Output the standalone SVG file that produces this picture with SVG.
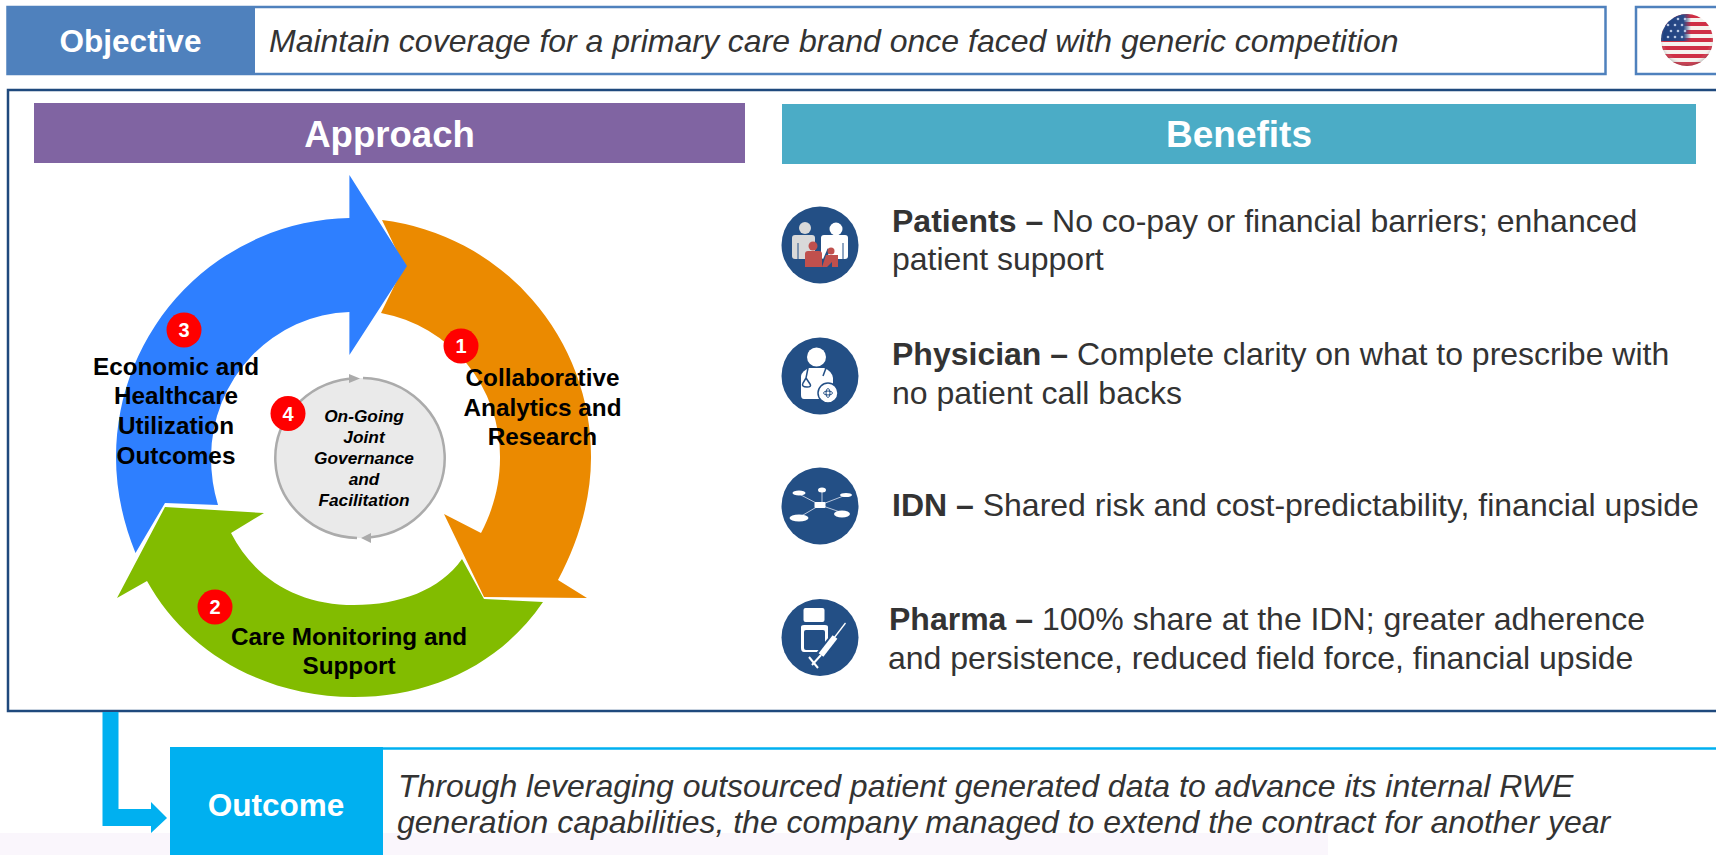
<svg xmlns="http://www.w3.org/2000/svg" width="1716" height="855" viewBox="0 0 1716 855">
<style>
text{font-family:"Liberation Sans",Arial,sans-serif}
.t{font-size:32px;fill:#333}
.i{font-style:italic;fill:#333;font-size:32px}
.b{font-weight:700}
.h{font-weight:700;fill:#fff;text-anchor:middle}
.r{font-size:24.3px;font-weight:700;fill:#000;text-anchor:middle}
.c{font-size:17.3px;font-weight:700;font-style:italic;fill:#000;text-anchor:middle}
.n{font-size:20px;font-weight:700;fill:#fff;text-anchor:middle}
.ic{fill:#234f85}
</style>
<defs>
<clipPath id="fc"><circle cx="1687" cy="40" r="26"/></clipPath>
<radialGradient id="fs" cx="0.5" cy="0.45" r="0.55"><stop offset="0.82" stop-color="#fff" stop-opacity="0"/><stop offset="1" stop-color="#444" stop-opacity="0.35"/></radialGradient>
<linearGradient id="fg" x1="0" y1="0" x2="1" y2="0"><stop offset="0" stop-color="#1f3f7f"/><stop offset="0.75" stop-color="#2a4b88"/><stop offset="1" stop-color="#2a4b88" stop-opacity="0"/></linearGradient>
</defs>
<rect width="1716" height="855" fill="#fff"/>
<rect id="pale-band" x="0" y="833" width="1328" height="22" fill="#faf6fc"/>

<g id="objective">
<rect x="7.5" y="7" width="1598" height="67" fill="#fff" stroke="#4f81bd" stroke-width="2.5"/>
<rect x="7" y="6" width="248" height="68" fill="#4f81bd"/>
<text class="h" x="130.5" y="52" font-size="31.5">Objective</text>
<text class="i" x="269" y="52">Maintain coverage for a primary care brand once faced with generic competition</text>
</g>

<g id="flag">
<rect x="1636" y="7" width="90" height="67" fill="#fff" stroke="#4f81bd" stroke-width="2.5"/>
<g clip-path="url(#fc)">
<rect x="1661" y="14" width="52" height="52" fill="#f6f2ee"/>
<g fill="#cf2f45">
<rect x="1661" y="14" width="52" height="4"/>
<rect x="1661" y="22" width="52" height="4"/>
<rect x="1661" y="30" width="52" height="4"/>
<rect x="1661" y="38" width="52" height="4"/>
<rect x="1661" y="46" width="52" height="4"/>
<rect x="1661" y="54" width="52" height="4"/>
<rect x="1661" y="62" width="52" height="4"/>
</g>
<rect x="1661" y="14" width="30" height="27" fill="url(#fg)"/>
<g fill="#b9c8e4">
<circle cx="1668" cy="37" r="1.3"/><circle cx="1675" cy="37" r="1.3"/><circle cx="1682" cy="37" r="1.3"/>
<circle cx="1671" cy="31" r="1.3"/><circle cx="1678" cy="31" r="1.3"/><circle cx="1685" cy="31" r="1.3"/>
<circle cx="1668" cy="25" r="1.3"/><circle cx="1675" cy="25" r="1.3"/><circle cx="1682" cy="25" r="1.3"/>
<circle cx="1678" cy="19" r="1.3"/><circle cx="1685" cy="19" r="1.3"/>
</g>
<circle cx="1687" cy="40" r="26" fill="url(#fs)"/>
</g>
</g>

<g id="main-frame">
<rect x="8" y="90" width="1730" height="621" fill="none" stroke="#1f497d" stroke-width="2.5"/>
</g>

<g id="approach">
<rect x="34" y="103" width="711" height="60" fill="#8064a2"/>
<text class="h" x="389.5" y="147" font-size="36.6">Approach</text>
</g>
<g id="benefits">
<rect x="782" y="104" width="914" height="60" fill="#4bacc6"/>
<text class="h" x="1239" y="147" font-size="37">Benefits</text>
</g>

<g id="arrow-orange">
<path d="M382 220A238 238 0 0 1 591 458C591 500 578 543 558 580L587 598L484 597L444 514L481 533C493 510 500 485 500 458A146 146 0 0 0 381 313L404 266Z" fill="#eb8a00"/>
</g>
<g id="arrow-green">
<path d="M543 602C500 665 430 697 354 697C262 697 185 650 147 581L117 598L165 507L264 513L231 533C255 580 300 605 354 605C400 605 440 590 462 559L484 599Z" fill="#82bc00"/>
</g>
<g id="arrow-blue">
<path d="M349.4 175L407 266L349.4 355V312A143 146 0 0 0 211 457Q211 482 218 505L165 503L135.500 553Q116 505 116 457A238 239 0 0 1 349.4 218Z" fill="#2e7fff"/>
</g>

<g id="node-governance">
<ellipse cx="360" cy="458" rx="84.500" ry="80" fill="#eaeaea"/>
<path d="M363 378A84.500 80 0 0 1 371 537.300M357 538A84.500 80 0 0 1 349 378.700" fill="none" stroke="#ababab" stroke-width="2.500"/>
<path d="M349 374L360 378.500L349 383ZM371 533L361 538L371 543Z" fill="#ababab"/>
<text class="c" x="364" y="422">On-Going</text>
<text class="c" x="364" y="443">Joint</text>
<text class="c" x="364" y="464">Governance</text>
<text class="c" x="364" y="485">and</text>
<text class="c" x="364" y="506">Facilitation</text>
</g>

<g id="label-1">
<text class="r" x="542.500" y="386">Collaborative</text>
<text class="r" x="542.500" y="416">Analytics and</text>
<text class="r" x="542.500" y="445">Research</text>
<circle cx="461" cy="346" r="17.500" fill="#f00"/><text class="n" x="461" y="353">1</text>
</g>
<g id="label-2">
<text class="r" x="349" y="645">Care Monitoring and</text>
<text class="r" x="349" y="674">Support</text>
<circle cx="215" cy="607" r="17.500" fill="#f00"/><text class="n" x="215" y="614">2</text>
</g>
<g id="label-3">
<text class="r" x="176" y="375">Economic and</text>
<text class="r" x="176" y="404">Healthcare</text>
<text class="r" x="176" y="434">Utilization</text>
<text class="r" x="176" y="464">Outcomes</text>
<circle cx="184" cy="330" r="17.500" fill="#f00"/><text class="n" x="184" y="337">3</text>
</g>
<g id="label-4">
<circle cx="288" cy="413.500" r="17.500" fill="#f00"/><text class="n" x="288" y="420.500">4</text>
</g>

<g id="benefit-patients">
<circle class="ic" cx="820" cy="245" r="38.500"/>
<circle cx="805" cy="228" r="6" fill="#d9d9d9"/>
<rect x="792" y="235" width="23" height="24" rx="3" fill="#d9d9d9"/>
<path d="M798 243V259" stroke="#234f85" stroke-width="1"/>
<circle cx="836" cy="229" r="6.500" fill="#fff"/>
<rect x="821" y="235" width="27" height="24" rx="3" fill="#fff"/>
<path d="M843 243V259" stroke="#234f85" stroke-width="1"/>
<path d="M823 263L829 249" stroke="#234f85" stroke-width="3"/>
<circle cx="813" cy="246" r="4.500" fill="#c0504d"/>
<path d="M805 267V254Q805 251 808 251H819Q822 251 822 254V267Z" fill="#c0504d"/>
<circle cx="831" cy="251" r="3.500" fill="#c0504d"/>
<path d="M822 267L826 255H838V267H832V262L827 267Z" fill="#c0504d"/>
</g>
<g id="benefit-physician">
<circle class="ic" cx="820" cy="376" r="38.500"/>
<circle cx="816.500" cy="357" r="9.500" fill="#fff"/>
<path d="M804 399Q801 399 801 395V376Q802 371 809 368L824 368Q832 371 833 378V399Z" fill="#fff"/>
<path d="M808 368L806 378L810 384Q812 387 807 387Q801 387 803 383L806 378" fill="none" stroke="#234f85" stroke-width="1.500"/>
<circle cx="828" cy="393" r="10" fill="#fff" stroke="#234f85" stroke-width="1.500"/>
<ellipse cx="828" cy="393" rx="4.500" ry="2" fill="none" stroke="#234f85" stroke-width="1"/>
<ellipse cx="828" cy="393" rx="2" ry="4.500" fill="none" stroke="#234f85" stroke-width="1"/>
<path d="M826 368L823 376" stroke="#234f85" stroke-width="1.500"/>
</g>
<g id="benefit-idn">
<circle class="ic" cx="820" cy="506" r="38.500"/>
<path d="M799 494L820 505M822 490V505M846 495L820 505M798 518L820 505M843 513L820 505" stroke="#b8c6dc" stroke-width="1"/>
<g fill="#fff">
<ellipse cx="799" cy="493" rx="6.500" ry="2.500"/>
<ellipse cx="822" cy="490" rx="4" ry="2.500"/>
<ellipse cx="846" cy="495" rx="6" ry="2"/>
<rect x="814.500" y="502" width="11" height="6" rx="1"/>
<ellipse cx="799" cy="518" rx="9.500" ry="3.500"/>
<ellipse cx="842" cy="514" rx="8" ry="3.500"/>
</g>
</g>
<g id="benefit-pharma">
<circle class="ic" cx="820" cy="637.500" r="38.500"/>
<rect x="803.500" y="608" width="21" height="14" rx="2" fill="#fff"/>
<path d="M801 627Q801 625 804 625H825Q828 625 828 627V648Q828 652 825 652H804Q801 652 801 648Z" fill="#fff"/>
<rect x="804" y="630" width="21" height="20" rx="2" fill="#234f85"/>
<path d="M836 636L820 656" stroke="#234f85" stroke-width="10"/>
<path d="M845.500 623L834 638" stroke="#fff" stroke-width="1.300"/>
<path d="M835 637L821 655" stroke="#fff" stroke-width="6"/>
<path d="M821 655L812 665M809 657L818 668" stroke="#fff" stroke-width="2"/>
</g>

<g id="benefit-text">
<text class="t" x="892" y="232"><tspan class="b">Patients – </tspan>No co-pay or financial barriers; enhanced</text>
<text class="t" x="892" y="270">patient support</text>
<text class="t" x="892" y="365"><tspan class="b">Physician – </tspan>Complete clarity on what to prescribe with</text>
<text class="t" x="892" y="404">no patient call backs</text>
<text class="t" x="892" y="516"><tspan class="b">IDN – </tspan>Shared risk and cost-predictability, financial upside</text>
<text class="t" x="889" y="630"><tspan class="b">Pharma – </tspan>100% share at the IDN; greater adherence</text>
<text class="t" x="888" y="669">and persistence, reduced field force, financial upside</text>
</g>

<g id="connectors">
<path d="M102.500 712V826H151V833L167 818L151 802V809H118.500V712Z" fill="#00b0f0"/>
</g>

<g id="outcome">
<path d="M383 748.500H1716" stroke="#00b0f0" stroke-width="2.500"/>
<rect x="170" y="747" width="213" height="108" fill="#00b0f0"/>
<text class="h" x="276" y="816" font-size="31.5">Outcome</text>
<text class="i" x="398" y="797">Through leveraging outsourced patient generated data to advance its internal RWE</text>
<text class="i" x="397" y="833">generation capabilities, the company managed to extend the contract for another year</text>
</g>
</svg>
